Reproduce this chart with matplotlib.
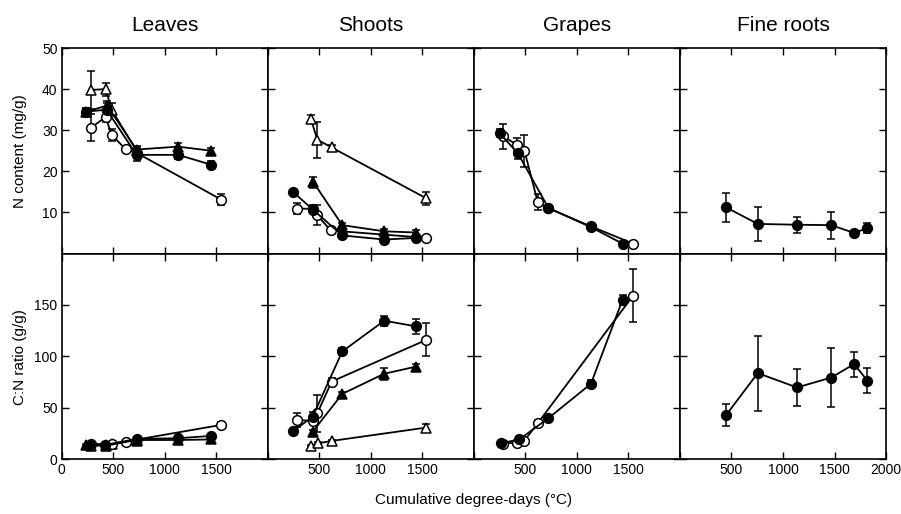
import matplotlib
matplotlib.use("Agg")
import matplotlib.pyplot as plt

plt.rcParams['font.family'] = ['Liberation Sans', 'DejaVu Sans']

# column titles and row labels
organs = ['Leaves', 'Shoots', 'Grapes', 'Fine roots']
row_labels = ['N content (mg/g)', 'C:N ratio (g/g)']
x_label = 'Cumulative degree-days (°C)'

# ---- Leaves, N content ----
lv_n_fc_x = [235, 435, 726, 1129, 1452]
lv_n_fc_y = [34.5, 35.0, 24.0, 24.0, 21.6]
lv_n_fc_e = [1.0, 1.5, 1.5, 1.0, 0.8]
lv_n_oc_x = [284, 426, 484, 619, 726, 1549]
lv_n_oc_y = [30.6, 33.2, 28.9, 25.4, 24.5, 13.1]
lv_n_oc_e = [3.3, 1.2, 1.5, 0.8, 1.0, 1.3]
lv_n_ft_x = [240, 440, 726, 1129, 1452]
lv_n_ft_y = [34.5, 36.0, 25.3, 26.0, 25.0]
lv_n_ft_e = [0.8, 1.2, 0.8, 0.8, 0.6]
lv_n_ot_x = [284, 426, 484, 726]
lv_n_ot_y = [39.8, 40.0, 35.0, 25.0]
lv_n_ot_e = [4.6, 1.6, 1.5, 0.8]

# ---- Leaves, C:N ----
lv_cn_fc_x = [275, 419, 726, 1129, 1452]
lv_cn_fc_y = [13.7, 13.7, 19.5, 20.2, 22.5]
lv_cn_fc_e = [1.0, 1.0, 1.5, 1.5, 1.5]
lv_cn_oc_x = [284, 484, 619, 1549]
lv_cn_oc_y = [14.5, 14.6, 17.0, 33.2]
lv_cn_oc_e = [1.0, 1.0, 1.0, 2.5]
lv_cn_ft_x = [240, 430, 726, 1129, 1452]
lv_cn_ft_y = [13.5, 13.0, 18.5, 18.5, 19.0]
lv_cn_ft_e = [1.0, 1.0, 1.0, 1.0, 1.0]
lv_cn_ot_x = [284, 426, 484, 726]
lv_cn_ot_y = [13.0, 13.5, 15.0, 18.0]
lv_cn_ot_e = [1.0, 1.0, 1.0, 1.0]

# ---- Shoots, N content ----
sh_n_fc_x = [249, 436, 723, 1130, 1443]
sh_n_fc_y = [14.9, 10.7, 4.4, 3.4, 3.8]
sh_n_fc_e = [0.5, 0.8, 0.4, 0.4, 0.4]
sh_n_oc_x = [287, 436, 481, 611, 1540]
sh_n_oc_y = [10.9, 10.9, 9.3, 5.6, 3.8]
sh_n_oc_e = [1.3, 0.8, 2.4, 0.5, 0.5]
sh_n_ft_x = [443, 723, 1130, 1443]
sh_n_ft_y = [17.3, 6.9, 5.4, 5.1]
sh_n_ft_e = [1.3, 0.5, 0.5, 0.6]
sh_n_ot_x = [417, 481, 620, 1540]
sh_n_ot_y = [32.8, 27.7, 25.8, 13.4]
sh_n_ot_e = [0.8, 4.4, 0.5, 1.6]

# ---- Shoots, C:N ----
sh_cn_fc_x = [249, 436, 723, 1130, 1443]
sh_cn_fc_y = [27.3, 41.3, 104.7, 134.6, 129.0]
sh_cn_fc_e = [2, 4, 3, 5, 7]
sh_cn_oc_x = [287, 436, 481, 620, 1540]
sh_cn_oc_y = [38.0, 37.0, 44.6, 75.4, 116.0]
sh_cn_oc_e = [7, 3, 18, 3, 16]
sh_cn_ft_x = [436, 723, 1130, 1443]
sh_cn_ft_y = [26.6, 63.4, 83.0, 90.0]
sh_cn_ft_e = [2, 2, 6, 2]
sh_cn_ot_x = [417, 490, 620, 1540]
sh_cn_ot_y = [13.0, 15.3, 17.6, 30.6]
sh_cn_ot_e = [1, 1, 1, 3]

# ---- Grapes ----
gr_n_fc_x = [249, 427, 723, 1136, 1443]
gr_n_fc_y = [29.3, 24.4, 11.1, 6.4, 2.4]
gr_n_fc_e = [1.0, 1.5, 0.5, 0.4, 0.3]
gr_n_oc_x = [282, 417, 491, 620, 723, 1136, 1545]
gr_n_oc_y = [28.5, 26.5, 25.0, 12.5, 11.0, 6.6, 2.4]
gr_n_oc_e = [3.0, 1.5, 3.9, 2.0, 0.5, 0.4, 0.5]
gr_cn_fc_x = [265, 442, 723, 1136, 1443]
gr_cn_fc_y = [15.3, 19.2, 39.7, 73.2, 155.0]
gr_cn_fc_e = [1.5, 2, 2, 4, 5]
gr_cn_oc_x = [282, 417, 491, 620, 1545]
gr_cn_oc_y = [15.0, 16.0, 17.9, 34.8, 159.0]
gr_cn_oc_e = [1, 1.5, 2, 3, 26]

# ---- Fine roots ----
fr_x = [449, 755, 1136, 1468, 1691, 1820]
fr_n_y = [11.2, 7.2, 7.0, 6.9, 5.0, 6.2]
fr_n_e = [3.5, 4.1, 2.0, 3.3, 0.5, 1.2]
fr_cn_y = [42.9, 83.6, 69.6, 79.3, 92.4, 76.1]
fr_cn_e = [10.7, 36.4, 18.0, 28.8, 12.2, 12.0]

# marker styles: filled circle, open circle, filled triangle, open triangle
styles = {
    'fc': dict(marker='o', mfc='black'),
    'oc': dict(marker='o', mfc='white'),
    'ft': dict(marker='^', mfc='black'),
    'ot': dict(marker='^', mfc='white'),
}

# open symbols first so the filled ones sit on top
panels = {
    (0, 0): [('ot', lv_n_ot_x, lv_n_ot_y, lv_n_ot_e), ('oc', lv_n_oc_x, lv_n_oc_y, lv_n_oc_e),
             ('ft', lv_n_ft_x, lv_n_ft_y, lv_n_ft_e), ('fc', lv_n_fc_x, lv_n_fc_y, lv_n_fc_e)],
    (1, 0): [('ot', lv_cn_ot_x, lv_cn_ot_y, lv_cn_ot_e), ('oc', lv_cn_oc_x, lv_cn_oc_y, lv_cn_oc_e),
             ('ft', lv_cn_ft_x, lv_cn_ft_y, lv_cn_ft_e), ('fc', lv_cn_fc_x, lv_cn_fc_y, lv_cn_fc_e)],
    (0, 1): [('ot', sh_n_ot_x, sh_n_ot_y, sh_n_ot_e), ('oc', sh_n_oc_x, sh_n_oc_y, sh_n_oc_e),
             ('ft', sh_n_ft_x, sh_n_ft_y, sh_n_ft_e), ('fc', sh_n_fc_x, sh_n_fc_y, sh_n_fc_e)],
    (1, 1): [('ot', sh_cn_ot_x, sh_cn_ot_y, sh_cn_ot_e), ('oc', sh_cn_oc_x, sh_cn_oc_y, sh_cn_oc_e),
             ('ft', sh_cn_ft_x, sh_cn_ft_y, sh_cn_ft_e), ('fc', sh_cn_fc_x, sh_cn_fc_y, sh_cn_fc_e)],
    (0, 2): [('oc', gr_n_oc_x, gr_n_oc_y, gr_n_oc_e), ('fc', gr_n_fc_x, gr_n_fc_y, gr_n_fc_e)],
    (1, 2): [('oc', gr_cn_oc_x, gr_cn_oc_y, gr_cn_oc_e), ('fc', gr_cn_fc_x, gr_cn_fc_y, gr_cn_fc_e)],
    (0, 3): [('fc', fr_x, fr_n_y, fr_n_e)],
    (1, 3): [('fc', fr_x, fr_cn_y, fr_cn_e)],
}

fig, axes = plt.subplots(2, 4, figsize=(9.01, 5.14), dpi=100,
                         gridspec_kw=dict(wspace=0, hspace=0))
fig.subplots_adjust(left=0.0685, right=0.9834, top=0.9066, bottom=0.107)

for (r, c), series in panels.items():
    ax = axes[r, c]
    for key, x, y, e in series:
        ax.errorbar(x, y, yerr=e, color='black', lw=1.3, ms=7, mec='black', mew=1.1,
                    capsize=3, elinewidth=1.1, capthick=1.1, **styles[key])

for r in range(2):
    for c in range(4):
        ax = axes[r, c]
        ax.set_xlim(0, 2000)
        ax.set_xticks([0, 500, 1000, 1500, 2000])
        if r == 1:
            labs = ['0' if c == 0 else '', '500', '1000', '1500', '2000' if c == 3 else '']
            ax.set_xticklabels(labs)
        else:
            ax.set_xticklabels([])
        if r == 0:
            ax.set_ylim(0, 50)
            ax.set_yticks([10, 20, 30, 40, 50])
        else:
            ax.set_ylim(0, 200)
            ax.set_yticks([0, 50, 100, 150])
        if c != 0:
            ax.set_yticklabels([])
        ax.tick_params(direction='in', top=True, right=True, length=5, width=1,
                       labelsize=10, pad=3)
        for s in ax.spines.values():
            s.set_linewidth(1.2)
        if r == 0:
            ax.set_title(organs[c], fontsize=15, pad=12)

fig.text(0.022, 0.706, row_labels[0], rotation=90, ha='center', va='center', fontsize=11)
fig.text(0.022, 0.306, row_labels[1], rotation=90, ha='center', va='center', fontsize=11)
fig.text(0.526, 0.027, x_label, ha='center', va='center', fontsize=11)

plt.savefig('out.png', dpi=100)
